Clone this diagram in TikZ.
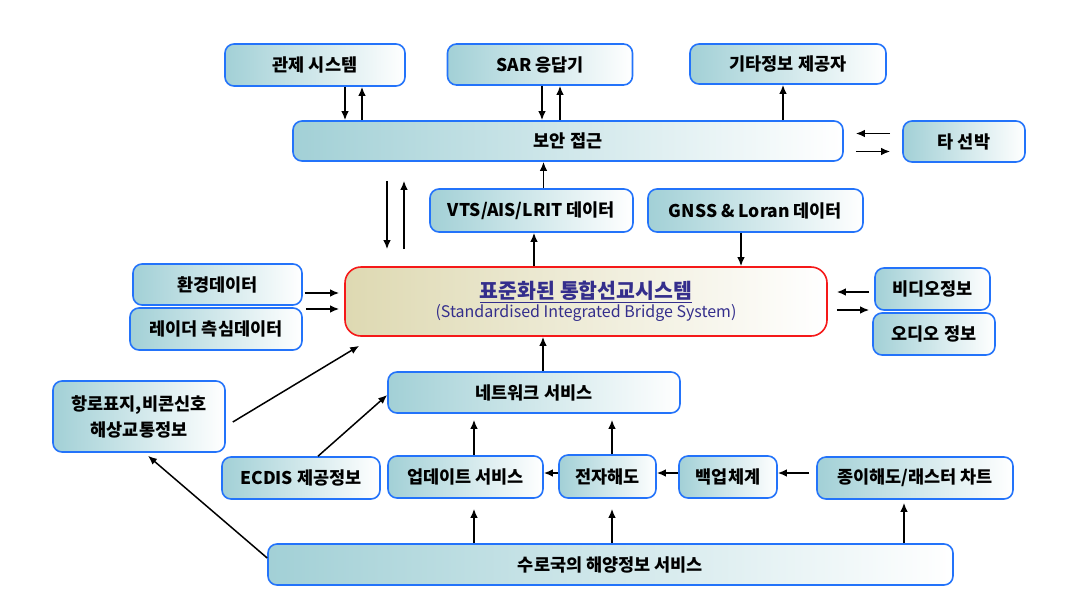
\documentclass[tikz,border=0pt]{standalone}
\usepackage{fontspec}
\setmainfont{Noto Sans CJK KR}
\usetikzlibrary{arrows.meta}
\usetikzlibrary{positioning}
\definecolor{boxblue}{RGB}{35,115,250}
\definecolor{boxteal}{RGB}{162,208,214}
\definecolor{ibsred}{RGB}{245,25,25}
\definecolor{ibskhaki}{RGB}{222,217,178}
\definecolor{ibstext}{RGB}{52,46,140}

\begin{document}
\begin{tikzpicture}[
	x=1pt, y=-1pt,
  > = {Latex[length=9pt,width=7.5pt]},
  box/.style = {draw=boxblue, line width=1.6pt, rounded corners=9pt, left color=boxteal, right color=white,
    inner sep=0pt, align=center, font=\fontsize{17.5}{26}\selectfont\bfseries},
  ibsbox/.style = {draw=ibsred, line width=1.6pt, rounded corners=16pt, left color=ibskhaki, right color=white,
    inner sep=0pt, align=center, text=ibstext},
  arr/.style = {->, line width=1.5pt}
  ]
  \useasboundingbox (0,0) rectangle (1065,595);

  % top row
	\node[box, minimum width=180pt, minimum height=42pt] (ctrl) at (315,65) {관제 시스템};
	\node[box, minimum width=185pt, minimum height=41pt] (sar) at (540,64.5) {SAR 응답기};
	\node[box, minimum width=196pt, minimum height=40pt] (etc) at (788,64) {기타정보 제공자};

	\node[box, minimum width=550pt, minimum height=40pt] (sec) at (568,141) {보안 접근};
	\node[box, minimum width=122pt, minimum height=41pt] (ship) at (964,141.5) {타 선박};

	\node[box, minimum width=203pt, minimum height=43pt] (vts) at (531.5,210.5) {VTS/AIS/LRIT 데이터};
	\node[box, minimum width=215pt, minimum height=43pt] (gnss) at (755.5,210.5) {GNSS \& Loran 데이터};

  % centre
	\node[ibsbox, minimum width=482pt, minimum height=69pt] (ibs) at (586,301.5)
	  {{\fontsize{20.5}{24}\selectfont\bfseries\underline{표준화된 통합선교시스템}}\\[1pt]
	   {\fontsize{16}{19}\selectfont (Standardised Integrated Bridge System)}};

	\node[box, minimum width=169pt, minimum height=41pt] (env) at (217.5,284.5) {환경데이터};
	\node[box, minimum width=172pt, minimum height=42pt] (radar) at (216,329) {레이더 측심데이터};
	\node[box, minimum width=115pt, minimum height=42pt] (video) at (932.5,289) {비디오정보};
	\node[box, minimum width=122pt, minimum height=42pt] (audio) at (934,334) {오디오 정보};

  % lower part
	\node[box, minimum width=172pt, minimum height=71pt] (aton) at (139,416.5) {항로표지,비콘신호\\해상교통정보};
	\node[box, minimum width=292pt, minimum height=41pt] (net) at (534,392.5) {네트워크 서비스};
	\node[box, minimum width=158pt, minimum height=42pt] (ecdis) at (301,478) {ECDIS 제공정보};
	\node[box, minimum width=155pt, minimum height=42pt] (upd) at (465.5,477) {업데이트 서비스};
	\node[box, minimum width=97pt, minimum height=43pt] (enc) at (607.5,476.5) {전자해도};
	\node[box, minimum width=98pt, minimum height=42pt] (backup) at (728,477) {백업체계};
	\node[box, minimum width=196pt, minimum height=42pt] (paper) at (915,478) {종이해도/래스터 차트};
	\node[box, minimum width=685pt, minimum height=41pt] (hydro) at (610.5,564.5) {수로국의 해양정보 서비스};

	\draw[arr] ([xshift=30pt]ctrl.south) -- ([xshift=30pt]ctrl.south |- sec.north);
	\draw[arr] ([xshift=47pt]ctrl.south |- sec.north) -- ([xshift=47pt]ctrl.south);
	\draw[arr] ([xshift=2pt]sar.south) -- ([xshift=2pt]sar.south |- sec.north);
	\draw[arr] ([xshift=20pt]sar.south |- sec.north) -- ([xshift=20pt]sar.south);
	\draw[arr] ([xshift=-5pt]etc.south |- sec.north) -- ([xshift=-5pt]etc.south);

	\draw[arr, shorten <=12pt, shorten >=12pt] ([yshift=8pt]ship.west) -- ([yshift=8pt]ship.west -| sec.east);
	\draw[arr, shorten <=12pt, shorten >=12pt] ([yshift=-10pt]ship.west -| sec.east) -- ([yshift=-10pt]ship.west);

	\draw[arr, shorten <=19pt, shorten >=17pt] ([xshift=-181pt]sec.south) -- ([xshift=-181pt]sec.south |- ibs.north);
	\draw[arr, shorten <=17pt, shorten >=19pt] ([xshift=-164pt]sec.south |- ibs.north) -- ([xshift=-164pt]sec.south);

	\draw[arr] ([xshift=12pt]vts.north) -- ([xshift=12pt]vts.north |- sec.south);
	\draw[arr] ([xshift=2.5pt]vts.south |- ibs.north) -- ([xshift=2.5pt]vts.south);
	\draw[arr] ([xshift=-14.5pt]gnss.south) -- ([xshift=-14.5pt]gnss.south |- ibs.north);

	\draw[arr, shorten <=2pt, shorten >=5pt] ([yshift=-8.5pt]env.east) -- ([yshift=-8.5pt]env.east -| ibs.west);
	\draw[arr, shorten <=2pt, shorten >=5pt] ([yshift=20pt,xshift=1pt]radar.east) -- ([yshift=20pt]radar.east -| ibs.west);
	\draw[arr, shorten <=5pt, shorten >=9pt] ([yshift=-3pt]video.west) -- ([yshift=-3pt]video.west -| ibs.east);
	\draw[arr, shorten <=9pt, shorten >=3pt] ([yshift=24pt]audio.west -| ibs.east) -- ([yshift=24pt]audio.west);

	\draw[arr] ([xshift=7pt,yshift=-5.5pt]aton.east) -- ([xshift=15pt,yshift=-9pt]ibs.south west);
	\draw[arr] ([xshift=17pt]ecdis.north) -- ([yshift=-2.5pt]net.west);
	\draw[arr] ([xshift=9pt]net.north) -- ([xshift=9pt]net.north |- ibs.south);

	\draw[arr, shorten >=6pt] ([xshift=8.5pt]upd.north) -- ([xshift=8.5pt]upd.north |- net.south);
	\draw[arr, shorten >=6pt] ([xshift=4.5pt]enc.north) -- ([xshift=4.5pt]enc.north |- net.south);
	\draw[arr] ([yshift=3.5pt]enc.west) -- ([yshift=3.5pt]enc.west -| upd.east);
	\draw[arr] ([yshift=4pt]backup.west) -- ([yshift=4pt]backup.west -| enc.east);
	\draw[arr, shorten <=7pt] ([yshift=5pt]paper.west) -- ([yshift=5pt]paper.west -| backup.east);

	\draw[arr, shorten >=10pt] ([xshift=8.5pt]upd.south |- hydro.north) -- ([xshift=8.5pt]upd.south);
	\draw[arr, shorten >=10pt] ([xshift=4.5pt]enc.south |- hydro.north) -- ([xshift=4.5pt]enc.south);
	\draw[arr, shorten >=3pt] ([xshift=-11pt]paper.south |- hydro.north) -- ([xshift=-11pt]paper.south);
	\draw[arr] ([yshift=6.5pt]hydro.west) -- ([xshift=9pt,yshift=-3pt]aton.south);
\end{tikzpicture}
\end{document}
